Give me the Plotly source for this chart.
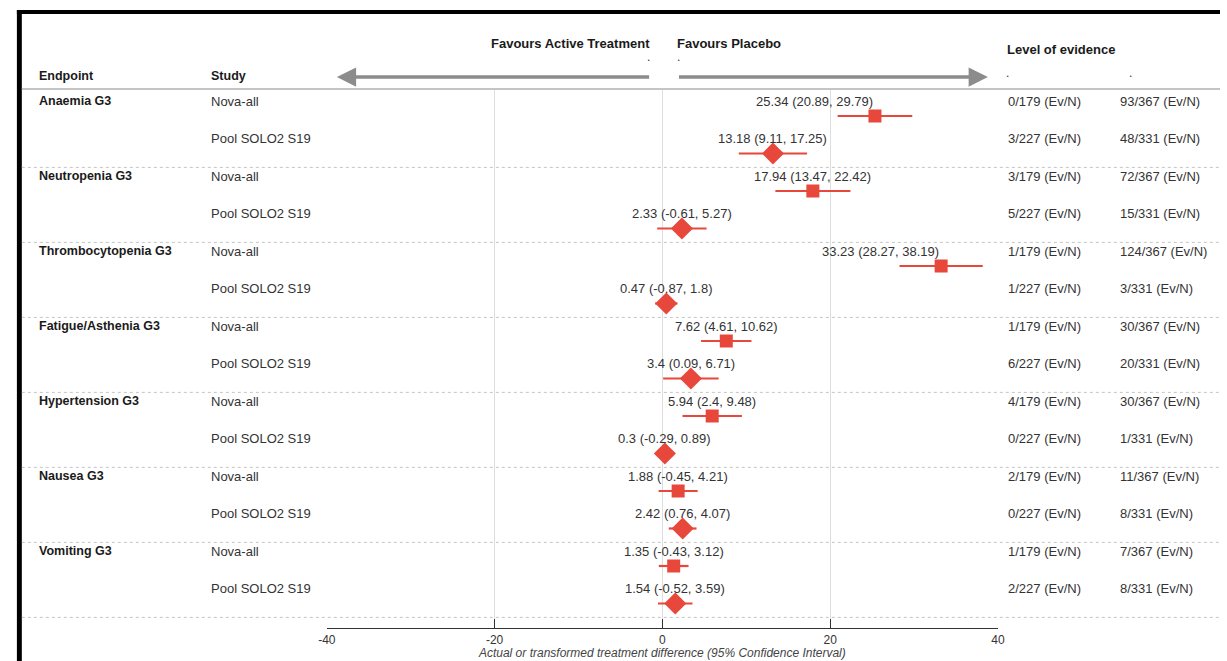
import plotly.graph_objects as go

# ---------------- data ----------------
endpoints = ["Anaemia G3", "Neutropenia G3", "Thrombocytopenia G3", "Fatigue/Asthenia G3",
             "Hypertension G3", "Nausea G3", "Vomiting G3"]
studies = ["Nova-all", "Pool SOLO2 S19"]

nova_est = [25.34, 17.94, 33.23, 7.62, 5.94, 1.88, 1.35]
nova_lo = [20.89, 13.47, 28.27, 4.61, 2.4, -0.45, -0.43]
nova_hi = [29.79, 22.42, 38.19, 10.62, 9.48, 4.21, 3.12]

pool_est = [13.18, 2.33, 0.47, 3.4, 0.3, 2.42, 1.54]
pool_lo = [9.11, -0.61, -0.87, 0.09, -0.29, 0.76, -0.52]
pool_hi = [17.25, 5.27, 1.8, 6.71, 0.89, 4.07, 3.59]

nova_ev_active = ["0/179", "3/179", "1/179", "1/179", "4/179", "2/179", "1/179"]
nova_ev_placebo = ["93/367", "72/367", "124/367", "30/367", "30/367", "11/367", "7/367"]
pool_ev_active = ["3/227", "5/227", "1/227", "6/227", "0/227", "0/227", "2/227"]
pool_ev_placebo = ["48/331", "15/331", "3/331", "20/331", "1/331", "8/331", "8/331"]

x_ticks = [-40, -20, 0, 20, 40]
x_tick_labels = ["-40", "-20", "0", "20", "40"]
x_title = "Actual or transformed treatment difference (95% Confidence Interval)"

# ---------------- layout helpers ----------------
W, H = 1227, 661
FONT = "Liberation Sans, Arial, sans-serif"
RED = "#e8473b"
TXT = "#333333"
BOLD = "#1a1a1a"


def px_x(p):
    return p / W


def px_y(p):
    return 1 - p / H


n = len(endpoints)
rows_nova = [2 * i for i in range(n)]
rows_pool = [2 * i + 1 for i in range(n)]

fig = go.Figure()


def add_series(est, lo, hi, rows, symbol, size, name):
    fig.add_trace(go.Scatter(
        x=est, y=rows, mode="markers", name=name,
        marker=dict(symbol=symbol, size=size, color=RED, line=dict(width=0)),
        error_x=dict(type="data", symmetric=False,
                     array=[h - e for h, e in zip(hi, est)],
                     arrayminus=[e - l for e, l in zip(est, lo)],
                     thickness=2.2, width=0, color=RED),
        showlegend=False, hoverinfo="skip",
    ))


add_series(nova_est, nova_lo, nova_hi, rows_nova, "square", 13, studies[0])
add_series(pool_est, pool_lo, pool_hi, rows_pool, "diamond", 17, studies[1])

annots = []


def txt(x, y, s, xref="paper", yref="y", bold=False, xanchor="left", size=13, color=None):
    annots.append(dict(
        x=x, y=y, xref=xref, yref=yref, text=("<b>%s</b>" % s) if bold else s,
        showarrow=False, xanchor=xanchor, yanchor="middle",
        font=dict(family=FONT, size=size, color=color or (BOLD if bold else TXT)),
    ))


LAB = -0.4  # label offset above row center (row units)

for i, ep in enumerate(endpoints):
    txt(px_x(28), rows_nova[i] + LAB, ep, bold=True, size=12.5)
    for rows, est, lo, hi, ea, ep_, st in (
        (rows_nova, nova_est, nova_lo, nova_hi, nova_ev_active, nova_ev_placebo, studies[0]),
        (rows_pool, pool_est, pool_lo, pool_hi, pool_ev_active, pool_ev_placebo, studies[1]),
    ):
        r = rows[i]
        txt(px_x(203), r + LAB, st)
        label = "%s (%s, %s)" % (est[i], lo[i], hi[i])
        anchor = "right" if est[i] > 20 else "center"
        txt(est[i], r + LAB, label, xref="x", xanchor=anchor)
        txt(px_x(1010), r + LAB, ea[i] + " (Ev/N)")
        txt(px_x(1124), r + LAB, ep_[i] + " (Ev/N)")

# headers
txt(px_x(28), px_y(76), "Endpoint", yref="paper", bold=True, size=12.5)
txt(px_x(203), px_y(76), "Study", yref="paper", bold=True, size=12.5)
txt(px_x(652), px_y(44), "Favours Active Treatment", yref="paper", bold=True, xanchor="right", size=13)
txt(px_x(675), px_y(44), "Favours Placebo", yref="paper", bold=True, size=13)
txt(px_x(1009), px_y(50), "Level of evidence", yref="paper", bold=True, size=13)
txt(px_x(652), px_y(57), ".", yref="paper", xanchor="right", size=12)
txt(px_x(675), px_y(57), ".", yref="paper", size=12)
txt(px_x(1008), px_y(73), ".", yref="paper", size=12)
txt(px_x(1133), px_y(73), ".", yref="paper", size=12)

# arrows
for tip, tail in ((-38.8, -1.4), (38.8, 1.8)):
    annots.append(dict(
        x=tip, y=px_y(77), xref="x", yref="paper", ax=tail, ay=0, axref="x", ayref="pixel",
        text="", showarrow=True, arrowhead=2, arrowsize=1.1, arrowwidth=3.5,
        arrowcolor="#8c8c8c", standoff=0,
    ))

shapes = []
# black frame edges (left & top)
shapes.append(dict(type="rect", xref="paper", yref="paper", x0=px_x(8), x1=px_x(13),
                   y0=0, y1=px_y(10), fillcolor="#000", line=dict(width=0)))
shapes.append(dict(type="rect", xref="paper", yref="paper", x0=px_x(8), x1=1,
                   y0=px_y(14), y1=px_y(10), fillcolor="#000", line=dict(width=0)))
# header rule
shapes.append(dict(type="line", xref="paper", yref="paper", x0=px_x(13), x1=1,
                   y0=px_y(89), y1=px_y(89), line=dict(color="#b0b0b0", width=1.5)))
# group separators
for i in range(n):
    yy = rows_pool[i] + 0.37
    shapes.append(dict(type="line", xref="paper", yref="y", x0=px_x(13), x1=1,
                       y0=yy, y1=yy, line=dict(color="#c4c4c4", width=1, dash="dot")))

top_row = (90 - 116) / 37.5
bot_row = (628 - 116) / 37.5

fig.update_layout(
    width=W, height=H, margin=dict(l=0, r=0, t=0, b=0),
    paper_bgcolor="white", plot_bgcolor="white",
    annotations=annots, shapes=shapes,
    xaxis=dict(domain=[px_x(322), px_x(1002)], range=[-40, 40],
               tickmode="array", tickvals=x_ticks, ticktext=x_tick_labels,
               showgrid=True, gridcolor="#dedede", gridwidth=1, zeroline=False,
               showline=True, linecolor="#333", linewidth=1.2,
               ticks="inside", ticklen=9, tickcolor="#333", tickwidth=1.2,
               tickfont=dict(family=FONT, size=12, color=TXT),
               title=dict(text="<i>%s</i>" % x_title, standoff=1,
                          font=dict(family=FONT, size=12, color="#444"))),
    yaxis=dict(domain=[px_y(628), px_y(90)], range=[bot_row, top_row],
               showgrid=False, zeroline=False, showticklabels=False, showline=False),
)

fig.write_html("out.html", config={"displayModeBar": False},
               post_script="document.body.style.margin='0';document.body.style.overflow='hidden';")
